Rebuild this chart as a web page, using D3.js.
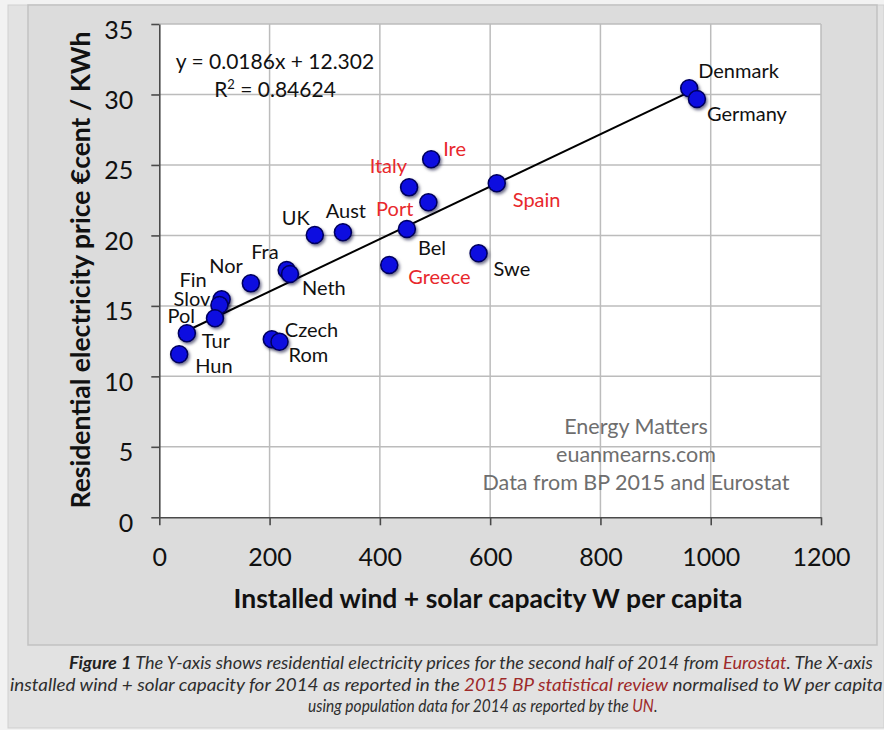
<!DOCTYPE html>
<html>
<head>
<meta charset="utf-8">
<script src="https://cdn.jsdelivr.net/npm/d3@7"></script>
<style>
  body { margin: 0; background: #f2f2f2; }
  svg { display: block; }
</style>
</head>
<body>
<svg id="chart" width="884" height="730"></svg>
<script>
// Residential electricity price vs installed wind + solar capacity, European countries, 2014
const countries  = ["Denmark", "Germany", "Ire", "Italy", "Port", "Spain", "Bel", "Greece", "Swe",
                    "UK", "Aust", "Fra", "Nor", "Neth", "Fin", "Slov", "Pol", "Tur", "Hun", "Czech", "Rom"];
const capacityW  = [961, 975, 493, 453, 488, 612, 449, 417, 579,
                    282, 333, 231, 166, 237, 113, 109, 101, 50, 36, 204, 218];
const priceCent  = [30.44, 29.68, 25.40, 23.41, 22.35, 23.70, 20.46, 17.90, 18.73,
                    20.03, 20.22, 17.55, 16.60, 17.26, 15.47, 15.06, 14.12, 13.06, 11.57, 12.63, 12.46];
const redLabels  = ["Ire", "Italy", "Port", "Spain", "Greece"];

const xTicks = [0, 200, 400, 600, 800, 1000, 1200];
const yTicks = [0, 5, 10, 15, 20, 25, 30, 35];

// Linear trendline as fitted
const trendSlope = 0.0186;
const trendIntercept = 12.302;
const rSquared = 0.84624;

// Where each country's name sits relative to its marker: [anchor, dx, dy]
const labelPlacement = {
  Denmark: ["start", 9, -18], Germany: ["start", 10, 14], Ire: ["start", 12, -11],
  Italy: ["end", -2, -22], Port: ["end", -15, 6], Spain: ["start", 16, 16],
  Bel: ["start", 11, 18], Greece: ["start", 19, 11], Swe: ["start", 15, 15],
  UK: ["end", -5, -18], Aust: ["middle", 3, -22], Fra: ["end", -8, -19],
  Nor: ["end", -8, -18], Neth: ["start", 12, 13], Fin: ["end", -15, -20],
  Slov: ["end", -9, -7], Pol: ["end", -20, -3], Tur: ["start", 15, 7],
  Hun: ["start", 16, 11], Czech: ["start", 13, -10], Rom: ["start", 9, 12]
};

const svg = d3.select("#chart");
const FONT = "Lato, 'Open Sans', sans-serif";

// Backgrounds: outer frame, chart panel
svg.append("rect").attr("x", 8).attr("y", 5).attr("width", 876).attr("height", 723)
  .attr("fill", "#e2e2e2").attr("stroke", "#cfcfcf");
svg.append("rect").attr("x", 28).attr("y", 5).attr("width", 849).attr("height", 640)
  .attr("fill", "#dcdcdc").attr("stroke", "#c2c2c2").attr("stroke-width", 1.5);

const x = d3.scaleLinear().domain([0, 1200]).range([159.3, 821]);
const y = d3.scaleLinear().domain([0, 35]).range([517.3, 24]);

// Plot area
svg.append("rect").attr("x", x(0)).attr("y", y(35))
  .attr("width", x(1200) - x(0)).attr("height", y(0) - y(35)).attr("fill", "#ffffff");

// Gridlines
const grid = svg.append("g").attr("stroke", "#bcbcbc").attr("stroke-width", 1.5);
grid.selectAll("line.h").data(yTicks.filter(d => d > 0)).join("line")
  .attr("x1", x(0)).attr("x2", x(1200)).attr("y1", d => y(d)).attr("y2", d => y(d));
grid.selectAll("line.v").data(xTicks.filter(d => d > 0)).join("line")
  .attr("x1", d => x(d)).attr("x2", d => x(d)).attr("y1", y(0)).attr("y2", y(35));

// Axes
const yAxis = svg.append("g").attr("transform", `translate(${x(0)},0)`)
  .call(d3.axisLeft(y).tickValues(yTicks).tickFormat(d3.format("d"))
    .tickSize(8).tickSizeOuter(0).tickPadding(18));
const xAxis = svg.append("g").attr("transform", `translate(0,${y(0)})`)
  .call(d3.axisBottom(x).tickValues(xTicks).tickFormat(d3.format("d"))
    .tickSize(8).tickSizeOuter(0));
[yAxis, xAxis].forEach(a => {
  a.select(".domain").attr("stroke", "#4a4a4a").attr("stroke-width", 1.6);
  a.selectAll(".tick line").attr("stroke", "#4a4a4a").attr("stroke-width", 1.6);
  a.selectAll(".tick text").attr("font-family", FONT).attr("font-size", 25).attr("fill", "#111");
});
yAxis.selectAll(".tick text").attr("dy", null).attr("dominant-baseline", "central").attr("y", 4);
xAxis.selectAll(".tick text").attr("dy", null).attr("dominant-baseline", "central").attr("y", 39);

// Axis titles
svg.append("text")
  .attr("transform", `translate(80,270) rotate(-90)`)
  .attr("text-anchor", "middle").attr("dominant-baseline", "central")
  .attr("font-family", FONT).attr("font-weight", 700).attr("font-size", 26.5).attr("fill", "#111")
  .text("Residential electricity price €cent / KWh");
svg.append("text")
  .attr("x", 488).attr("y", 598)
  .attr("text-anchor", "middle").attr("dominant-baseline", "central")
  .attr("font-family", FONT).attr("font-weight", 700).attr("font-size", 26.5).attr("fill", "#111")
  .text("Installed wind + solar capacity W per capita");

// Trendline over the span of the data
const xMin = d3.min(capacityW), xMax = d3.max(capacityW);
svg.append("line")
  .attr("x1", x(xMin)).attr("y1", y(trendSlope * xMin + trendIntercept))
  .attr("x2", x(xMax)).attr("y2", y(trendSlope * xMax + trendIntercept))
  .attr("stroke", "#000").attr("stroke-width", 2);

// Equation and fit quality
const eq = svg.append("g").attr("font-family", FONT).attr("font-size", 21).attr("fill", "#111")
  .attr("text-anchor", "middle");
eq.append("text").attr("x", 275).attr("y", 69)
  .text(`y = ${trendSlope}x + ${trendIntercept}`);
const r2 = eq.append("text").attr("x", 275).attr("y", 97);
r2.append("tspan").text("R");
r2.append("tspan").attr("font-size", 13).attr("dy", -8).text("2");
r2.append("tspan").attr("dy", 8).text(` = ${rSquared}`);

// Drop shadow for markers
const defs = svg.append("defs");
defs.append("filter").attr("id", "shadow").attr("x", "-50%").attr("y", "-50%")
  .attr("width", "200%").attr("height", "200%")
  .append("feDropShadow").attr("dx", 1.5).attr("dy", 2).attr("stdDeviation", 1.6)
  .attr("flood-color", "#000030").attr("flood-opacity", 0.55);

const rows = countries.map((c, i) => ({ name: c, cap: capacityW[i], price: priceCent[i] }));

svg.append("g").selectAll("circle").data(rows).join("circle")
  .attr("cx", d => x(d.cap)).attr("cy", d => y(d.price)).attr("r", 8.5)
  .attr("fill", "#0a0ae0").attr("stroke", "#00005c").attr("stroke-width", 1.5)
  .attr("filter", "url(#shadow)");

// Country labels
svg.append("g").selectAll("text").data(rows).join("text")
  .attr("x", d => x(d.cap) + labelPlacement[d.name][1])
  .attr("y", d => y(d.price) + labelPlacement[d.name][2])
  .attr("text-anchor", d => labelPlacement[d.name][0])
  .attr("dominant-baseline", "central")
  .attr("font-family", FONT).attr("font-size", 20)
  .attr("fill", d => redLabels.includes(d.name) ? "#e8282c" : "#111")
  .text(d => d.name);

// Source note
const note = svg.append("g").attr("font-family", FONT).attr("font-size", 21.5).attr("fill", "#6e6e6e")
  .attr("text-anchor", "middle");
["Energy Matters", "euanmearns.com", "Data from BP 2015 and Eurostat"].forEach((t, i) => {
  note.append("text").attr("x", 636).attr("y", 426 + i * 28).attr("dominant-baseline", "central").text(t);
});

// Figure caption: each line is squeezed horizontally into its measured span
const captionLines = [
  { left: 69, width: 804, parts: [["Figure 1", "b"], [" The Y-axis shows residential electricity prices for the second half of 2014 from ", ""], ["Eurostat", "r"], [". The X-axis", ""]] },
  { left: 10, width: 873, parts: [["installed wind + solar capacity for 2014 as reported in the ", ""], ["2015 BP statistical review", "r"], [" normalised to W per capita", ""]] },
  { left: 308, width: 350, parts: [["using population data for 2014 as reported by the ", ""], ["UN", "r"], [".", ""]] }
];
captionLines.forEach((line, i) => {
  const g = svg.append("g");
  const t = g.append("text").attr("x", 0).attr("y", 0)
    .attr("font-family", FONT).attr("font-style", "italic").attr("font-size", 17)
    .attr("fill", "#2e2e2e");
  line.parts.forEach(([s, kind]) => {
    const sp = t.append("tspan").text(s);
    if (kind === "b") sp.attr("font-weight", 700).attr("fill", "#222");
    if (kind === "r") sp.attr("fill", "#9e2a2a");
  });
  const natural = t.node().getComputedTextLength();
  g.attr("transform", `translate(${line.left},${669 + i * 21.5}) scale(${line.width / natural},1)`);
});
</script>
</body>
</html>
